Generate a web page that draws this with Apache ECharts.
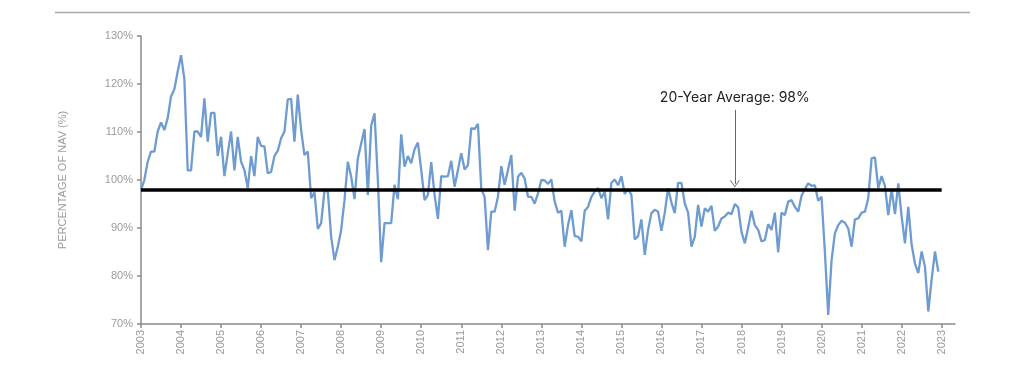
<!DOCTYPE html>
<html>
<head>
<meta charset="utf-8">
<script src="https://cdn.jsdelivr.net/npm/echarts@6/dist/echarts.min.js"></script>
<style>
  html, body { margin: 0; padding: 0; background: #fff; }
  #chart { width: 1024px; height: 378px; }
</style>
</head>
<body>
<div id="chart"></div>
<script>
// Monthly values, Jan 2003 .. Dec 2022 (percentage of NAV)
const y2003 = [97.9, 100.0, 103.8, 105.9, 105.9, 110.1, 112.0, 110.4, 112.9, 117.4, 118.9, 122.6];
const y2004 = [126.0, 121.0, 102.0, 102.0, 110.1, 110.1, 109.0, 117.0, 108.0, 114.0, 114.0, 105.0];
const y2005 = [109.0, 100.8, 105.5, 110.1, 102.0, 109.0, 103.8, 102.1, 98.3, 105.0, 100.8, 109.0];
const y2006 = [107.1, 107.0, 101.4, 101.7, 105.0, 106.1, 108.7, 110.1, 116.8, 116.9, 108.0, 117.8];
const y2007 = [110.4, 105.2, 105.9, 96.2, 97.5, 89.8, 91.0, 97.8, 97.6, 88.2, 83.3, 86.1];
const y2008 = [89.6, 95.8, 103.8, 100.7, 96.0, 104.5, 107.6, 110.6, 96.9, 111.3, 113.9, 100.0];
const y2009 = [82.9, 91.0, 91.0, 91.0, 99.0, 96.0, 109.5, 102.8, 105.0, 103.5, 106.4, 107.8];
const y2010 = [102.1, 95.8, 96.9, 103.7, 96.9, 91.9, 100.8, 100.7, 100.8, 104.0, 98.6, 102.1];
const y2011 = [105.6, 102.2, 103.1, 110.8, 110.6, 111.7, 98.1, 96.5, 85.4, 93.4, 93.4, 96.5];
const y2012 = [102.9, 99.0, 102.1, 105.2, 93.6, 100.7, 101.5, 100.3, 96.5, 96.5, 95.1, 97.2];
const y2013 = [100.0, 99.9, 99.2, 100.1, 95.5, 93.2, 93.6, 86.1, 90.6, 93.7, 88.3, 88.2];
const y2014 = [87.2, 93.6, 94.4, 96.5, 97.6, 98.3, 96.2, 97.6, 91.8, 99.4, 100.1, 98.9];
const y2015 = [100.8, 97.1, 98.1, 96.9, 87.6, 88.3, 91.8, 84.4, 89.6, 93.1, 93.8, 93.4];
const y2016 = [89.4, 93.2, 98.3, 95.3, 93.1, 99.4, 99.4, 95.1, 93.2, 86.1, 88.2, 94.8];
const y2017 = [90.3, 94.1, 93.4, 94.6, 89.4, 90.3, 92.0, 92.4, 93.2, 92.9, 95.0, 94.3];
const y2018 = [89.2, 86.8, 90.1, 93.6, 90.6, 89.6, 87.2, 87.5, 90.8, 89.6, 93.2, 84.9];
const y2019 = [93.2, 92.7, 95.5, 95.8, 94.4, 93.4, 96.7, 98.1, 99.3, 98.8, 98.9, 95.7];
const y2020 = [96.5, 85.0, 71.9, 83.3, 88.9, 90.6, 91.5, 91.1, 89.9, 86.1, 91.8, 92.0];
const y2021 = [93.2, 93.4, 96.2, 104.5, 104.7, 98.3, 100.8, 98.8, 92.7, 98.1, 92.9, 99.3];
const y2022 = [92.4, 86.8, 94.4, 86.5, 82.6, 80.6, 85.1, 81.9, 72.6, 79.3, 85.1, 80.9];

const AVERAGE = 98;
const ANNOTATION = '20-Year Average: 98%';
const Y_NAME = 'PERCENTAGE OF NAV (%)';
const START_YEAR = 2003;
const AXIS_MONTHS = 245; // Jan 2003 .. May 2023 (axis runs a little past 2023)

const values = [].concat(y2003, y2004, y2005, y2006, y2007, y2008, y2009, y2010, y2011, y2012,
  y2013, y2014, y2015, y2016, y2017, y2018, y2019, y2020, y2021, y2022);

const categories = [];
for (let i = 0; i < AXIS_MONTHS; i++) {
  const yr = START_YEAR + Math.floor(i / 12);
  const mo = (i % 12) + 1;
  categories.push(yr + '-' + (mo < 10 ? '0' + mo : mo));
}

const chart = echarts.init(document.getElementById('chart'), null, { renderer: 'canvas' });
const axisGray = '#8a8a8a';
const labelGray = '#9a9a9a';

chart.setOption({
  animation: false,
  backgroundColor: '#fff',
  graphic: [{
    type: 'line',
    shape: { x1: 55, y1: 12.5, x2: 970, y2: 12.5 },
    style: { stroke: '#a8a8a8', lineWidth: 1.5 },
    silent: true
  }],
  grid: { left: 141, right: 69, top: 36, bottom: 54 },
  xAxis: {
    type: 'category',
    data: categories,
    boundaryGap: false,
    axisLine: { show: true, lineStyle: { color: axisGray, width: 1.5 } },
    axisTick: {
      show: true, length: 4, lineStyle: { color: axisGray, width: 1.5 },
      interval: function (idx) { return idx % 12 === 0; }
    },
    axisLabel: {
      rotate: 90,
      interval: function (idx) { return idx % 12 === 0; },
      formatter: function (v) { return v.slice(0, 4); },
      color: labelGray,
      fontFamily: 'Liberation Sans, Arial, sans-serif',
      fontSize: 11,
      margin: 6
    },
    splitLine: { show: false }
  },
  yAxis: {
    type: 'value',
    min: 70, max: 130, interval: 10,
    name: Y_NAME,
    nameLocation: 'middle',
    nameRotate: 90,
    nameGap: 73,
    nameTextStyle: { color: labelGray, fontSize: 11, fontFamily: 'Liberation Sans, Arial, sans-serif' },
    axisLine: { show: true, lineStyle: { color: axisGray, width: 1.5 } },
    axisTick: { show: true, length: 4, lineStyle: { color: axisGray, width: 1.5 } },
    axisLabel: {
      formatter: '{value}%',
      color: labelGray,
      fontFamily: 'Liberation Sans, Arial, sans-serif',
      fontSize: 11,
      margin: 8
    },
    splitLine: { show: false }
  },
  series: [{
    type: 'line',
    data: values,
    showSymbol: false,
    symbol: 'none',
    lineStyle: { color: '#6e9bd0', width: 2.3 },
    z: 2,
    markLine: {
      silent: true,
      animation: false,
      z: 5,
      data: [
        [
          { coord: [0, AVERAGE], symbol: 'none', lineStyle: { color: '#000', width: 3.5, type: 'solid' }, label: { show: false } },
          { coord: [240, AVERAGE], symbol: 'none' }
        ],
        [
          {
            coord: [178, 114.6], symbol: 'none',
            lineStyle: { color: '#666', width: 1, type: 'solid' },
            label: {
              show: true, position: 'start', formatter: ANNOTATION, distance: 5,
              color: '#222', fontSize: 14, fontFamily: 'Inter, Liberation Sans, sans-serif'
            }
          },
          {
            coord: [178, 99.2],
            symbol: 'path://M0,10 L5,0 L10,10 L9,10 L5,2 L1,10 Z',
            symbolSize: [10, 7]
          }
        ]
      ]
    }
  }]
});
</script>
</body>
</html>
